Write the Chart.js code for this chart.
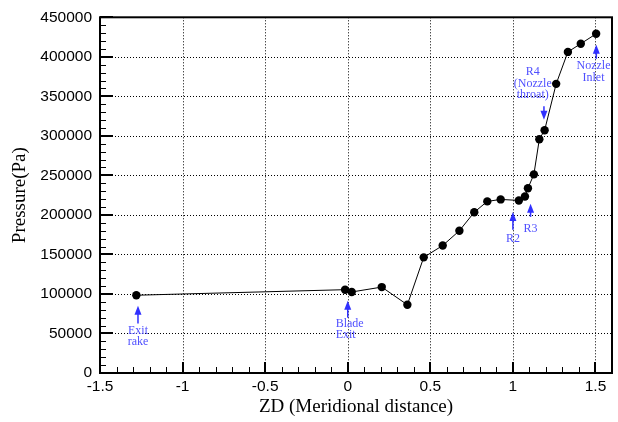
<!DOCTYPE html>
<html>
<head>
<meta charset="utf-8">
<script src="https://cdn.jsdelivr.net/npm/chart.js@4.4.1/dist/chart.umd.min.js"></script>
<style>
  body { margin: 0; background: #fff; }
  canvas { display: block; }
</style>
</head>
<body>
<canvas id="chartTekanan" width="618" height="422"></canvas>
<script>
// Data titik
const zdValues = [-1.28, -0.016, 0.024, 0.206, 0.361, 0.46, 0.575, 0.676, 0.766, 0.845, 0.926,
    1.036, 1.073, 1.091, 1.127, 1.16, 1.192, 1.262, 1.333, 1.411, 1.504];
const pressureValues = [98400, 105400, 102500, 108700, 86300, 146300, 161300, 180000, 203400, 217100, 219600,
    218300, 223300, 233700, 251300, 295800, 307100, 365800, 406200, 416600, 429100];

// Label sumbu
const xTicks = [-1.5, -1, -0.5, 0, 0.5, 1, 1.5];
const yTicks = [0, 50000, 100000, 150000, 200000, 250000, 300000, 350000, 400000, 450000];

// Anotasi (teks biru dan panah)
const noteText = [['Exit', 'rake'], ['Blade', 'Exit'], ['R2'], ['R3'], ['R4', '(Nozzle', 'throat)'], ['Nozzle', 'Inlet']];
const noteX = [-1.27, 0, 1.0, 1.107, 1.188, 1.505];
const noteTipY = [85000, 91250, 203750, 214100, 320400, 415400];
const noteTailY = [62500, 70000, 181250, 197500, 337500, 397500];
const noteTextX = [-1.27, -0.073, 1.0, 1.107, 1.12, 1.488];
const noteTextY = [53750, 62500, 170000, 182500, 380900, 388400];
const noteAlign = ['center', 'left', 'center', 'center', 'center', 'center'];

function strokeLine(ctx, x1, y1, x2, y2) {
    ctx.beginPath();
    ctx.moveTo(x1, y1);
    ctx.lineTo(x2, y2);
    ctx.stroke();
}

// Plugin untuk grid titik-titik, bingkai dan tick ke dalam
const frameAndTicks = {
    id: 'frameAndTicks',
    beforeDatasetsDraw(chart) {
        const { ctx, chartArea: a, scales: { x, y } } = chart;
        ctx.save();
        ctx.strokeStyle = '#000';
        ctx.lineWidth = 1;
        ctx.setLineDash([1, 2]);
        xTicks.forEach(v => {
            const px = Math.round(x.getPixelForValue(v)) + 0.5;
            strokeLine(ctx, px, a.top, px, a.bottom);
        });
        yTicks.forEach(v => {
            const py = Math.round(y.getPixelForValue(v)) + 0.5;
            strokeLine(ctx, a.left, py, a.right, py);
        });
        ctx.setLineDash([]);

        // tick minor
        ctx.lineWidth = 1;
        for (let i = -15; i <= 16; i++) {
            const px = Math.round(x.getPixelForValue(i / 10)) + 0.5;
            strokeLine(ctx, px, a.bottom, px, a.bottom - 6);
        }
        for (let i = 0; i <= 45; i++) {
            const py = Math.round(y.getPixelForValue(i * 10000)) + 0.5;
            strokeLine(ctx, a.left, py, a.left + 6, py);
        }
        // tick mayor
        ctx.lineWidth = 2;
        xTicks.forEach(v => {
            const px = Math.round(x.getPixelForValue(v));
            strokeLine(ctx, px, a.bottom, px, a.bottom - 11);
        });
        yTicks.forEach(v => {
            const py = Math.round(y.getPixelForValue(v));
            strokeLine(ctx, a.left, py, a.left + 13, py);
        });

        // bingkai
        ctx.lineWidth = 2;
        ctx.strokeRect(a.left, a.top, a.right - a.left, a.bottom - a.top);
        ctx.restore();
    },
    afterDatasetsDraw(chart) {
        const { ctx, scales: { x, y } } = chart;
        ctx.save();
        noteText.forEach((lines, i) => {
            const px = x.getPixelForValue(noteX[i]);
            const tip = y.getPixelForValue(noteTipY[i]);
            const tail = y.getPixelForValue(noteTailY[i]);
            const dir = tail > tip ? 1 : -1;
            ctx.strokeStyle = '#3030ff';
            ctx.fillStyle = '#3030ff';
            ctx.lineWidth = 1.5;
            strokeLine(ctx, px, tail, px, tip + dir * 6);
            ctx.beginPath();
            ctx.moveTo(px, tip);
            ctx.lineTo(px - 3.5, tip + dir * 9);
            ctx.lineTo(px + 3.5, tip + dir * 9);
            ctx.closePath();
            ctx.fill();

            ctx.fillStyle = '#5050ff';
            ctx.font = '12px "Liberation Serif", "Times New Roman", serif';
            ctx.textAlign = noteAlign[i];
            ctx.textBaseline = 'middle';
            const tx = x.getPixelForValue(noteTextX[i]);
            const ty = y.getPixelForValue(noteTextY[i]);
            lines.forEach((t, k) => ctx.fillText(t, tx, ty + k * 11.7));
        });
        ctx.restore();
    }
};

new Chart(document.getElementById('chartTekanan'), {
    type: 'line',
    data: {
        datasets: [{
            label: 'Pressure',
            data: zdValues.map((v, i) => ({ x: v, y: pressureValues[i] })),
            borderColor: '#000',
            backgroundColor: '#000',
            borderWidth: 1,
            pointRadius: 4.2,
            pointBackgroundColor: '#000',
            pointBorderWidth: 0,
            tension: 0
        }]
    },
    options: {
        responsive: false,
        animation: false,
        layout: { padding: { top: 13, right: 6, left: 0, bottom: 0 } },
        plugins: {
            legend: { display: false },
            tooltip: { enabled: false }
        },
        scales: {
            x: {
                type: 'linear',
                min: -1.5,
                max: 1.6,
                afterBuildTicks: scale => { scale.ticks = xTicks.map(v => ({ value: v })); },
                afterFit: scale => { scale.height = 49; },
                grid: { display: false, drawTicks: false },
                border: { display: false },
                ticks: {
                    padding: 4,
                    color: '#000',
                    maxRotation: 0,
                    font: { family: '"Liberation Sans", Arial, sans-serif', size: 15.5 },
                    callback: v => String(v)
                },
                title: {
                    display: true,
                    text: 'ZD (Meridional distance)',
                    color: '#000',
                    font: { family: '"Liberation Serif", "Times New Roman", serif', size: 19 },
                    padding: { top: 0, bottom: 4 }
                }
            },
            y: {
                min: 0,
                max: 450000,
                afterBuildTicks: scale => { scale.ticks = yTicks.map(v => ({ value: v })); },
                afterFit: scale => { scale.width = 100; },
                grid: { display: false, drawTicks: false },
                border: { display: false },
                ticks: {
                    padding: 8,
                    color: '#000',
                    font: { family: '"Liberation Sans", Arial, sans-serif', size: 15.5 },
                    callback: v => String(v)
                },
                title: {
                    display: true,
                    text: 'Pressure(Pa)',
                    color: '#000',
                    font: { family: '"Liberation Serif", "Times New Roman", serif', size: 19 },
                    padding: { top: 9, bottom: 0 }
                }
            }
        }
    },
    plugins: [frameAndTicks]
});
</script>
</body>
</html>
